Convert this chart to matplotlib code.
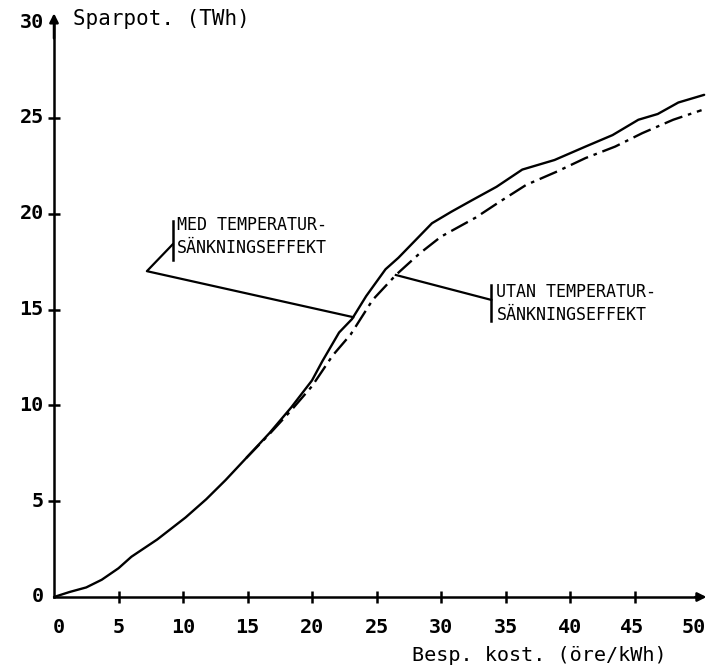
import numpy as np
import matplotlib.pyplot as plt

plt.rc('font', family='DejaVu Sans Mono', size=12)

# kostnad (öre/kWh) och sparpotential (TWh)
med_x = [0, 1.2, 2.5, 3.7, 5, 6.0, 8, 10.2, 11.8, 13.3, 14.9, 16.7, 18.4, 20,
         20.8, 22.1, 23.1, 24.2, 25.7, 26.7, 28.0, 29.3, 30.8, 32.4, 34.3, 36.3,
         38.8, 41.2, 43.3, 45.3, 46.8, 48.4, 50.4]
med_y = [0, 0.26, 0.5, 0.9, 1.5, 2.1, 3.0, 4.15, 5.1, 6.1, 7.25, 8.55, 9.9, 11.3,
         12.3, 13.8, 14.5, 15.7, 17.1, 17.7, 18.6, 19.5, 20.1, 20.7, 21.4, 22.3,
         22.8, 23.5, 24.1, 24.9, 25.2, 25.8, 26.2]

utan_x = [14.9, 16.7, 18.4, 20, 21.6, 23, 24.7, 26.5, 28.3, 30, 32.7, 34.5, 36.6,
          39, 41.2, 43.5, 45.6, 48, 50.2]
utan_y = [7.25, 8.5, 9.75, 11.0, 12.6, 13.7, 15.5, 16.8, 17.9, 18.8, 19.8, 20.6,
          21.5, 22.2, 22.9, 23.5, 24.2, 24.9, 25.4]

x_ticks = [0, 5, 10, 15, 20, 25, 30, 35, 40, 45, 50]
y_ticks = [0, 5, 10, 15, 20, 25, 30]

fig = plt.figure(figsize=(7.09, 6.65), dpi=100)
ax = fig.add_axes([54 / 709, 68 / 665, 645 / 709, 575 / 665])
ax.set_xlim(0, 50)
ax.set_ylim(0, 30)

ax.plot(med_x, med_y, color='black', lw=1.7, solid_capstyle='round', clip_on=False)
ax.plot(utan_x, utan_y, color='black', lw=1.7, dashes=(8, 2.5, 1.5, 2.5), clip_on=False)

for s in ['top', 'right']:
    ax.spines[s].set_visible(False)
for s in ['left', 'bottom']:
    ax.spines[s].set_linewidth(1.8)

# pilar på axlarna
ax.annotate('', xy=(0, 30.6), xytext=(0, 29), xycoords='data',
            arrowprops=dict(arrowstyle='-|>', color='black', lw=1.8, mutation_scale=13),
            annotation_clip=False)
ax.annotate('', xy=(50.8, 0), xytext=(49.5, 0), xycoords='data',
            arrowprops=dict(arrowstyle='-|>', color='black', lw=1.8, mutation_scale=13),
            annotation_clip=False)

ax.set_xticks(x_ticks[1:-1])
ax.set_xticklabels([])
ax.set_yticks(y_ticks[1:-1])
ax.set_yticklabels([])
ax.tick_params(direction='inout', length=9, width=1.8)

x_shift = {0: 0.4, 45: -0.2, 50: -0.4}
for v in x_ticks:
    ax.text(v + x_shift.get(v, 0.0), -1.1, str(v), ha='center', va='top',
            fontsize=14.5, fontweight='bold')
for v in y_ticks:
    ax.text(-0.8, v, str(v), ha='right', va='center', fontsize=14.5, fontweight='bold')

ax.text(1.5, 30.15, 'Sparpot. (TWh)', ha='left', va='center', fontsize=15)
ax.text(47.5, -3.05, 'Besp. kost. (öre/kWh)', ha='right', va='center', fontsize=14.5)

# annotering MED
ax.plot([9.2, 9.2], [17.6, 19.6], color='black', lw=1.8)
ax.plot([9.2, 7.2, 23.2], [18.4, 17.0, 14.6], color='black', lw=1.6)
ax.text(9.5, 18.8, 'MED TEMPERATUR-\nSÄNKNINGSEFFEKT', ha='left', va='center',
        fontsize=12, linespacing=1.35)

# annotering UTAN
ax.plot([33.9, 33.9], [14.4, 16.3], color='black', lw=1.8)
ax.plot([26.5, 33.9], [16.8, 15.5], color='black', lw=1.6)
ax.text(34.3, 15.3, 'UTAN TEMPERATUR-\nSÄNKNINGSEFFEKT', ha='left', va='center',
        fontsize=12, linespacing=1.35)

fig.savefig('out.png', dpi=100)
